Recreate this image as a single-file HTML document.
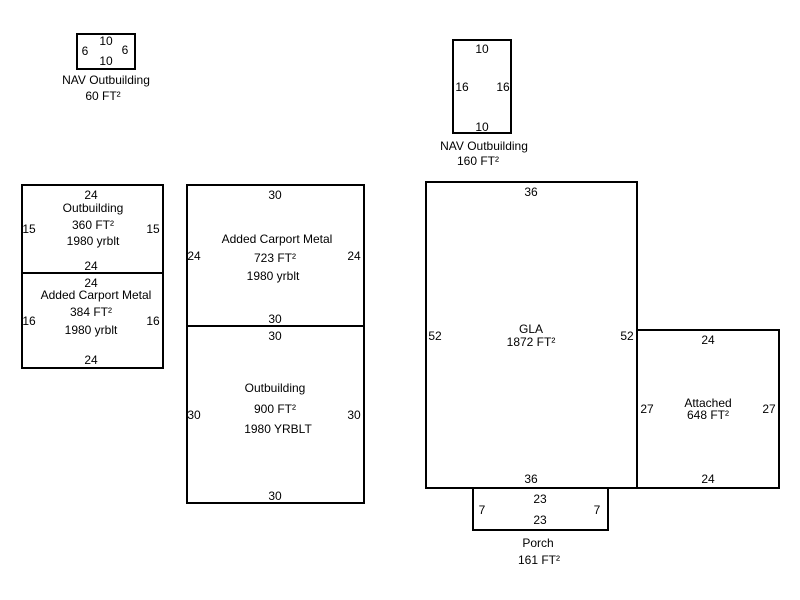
<!DOCTYPE html>
<html><head><meta charset="utf-8"><style>
html,body{margin:0;padding:0;background:#fff;}
svg{display:block;}
text{font-family:"Liberation Sans",Arial,sans-serif;font-size:12px;fill:#000;}
rect{fill:none;stroke:#000;stroke-width:2;}
</style></head><body>
<svg width="800" height="600" viewBox="0 0 800 600" xmlns="http://www.w3.org/2000/svg">
<rect x="77" y="34" width="58" height="35"/>
<text x="106" y="45" text-anchor="middle">10</text>
<text x="106" y="65" text-anchor="middle">10</text>
<text x="85" y="55" text-anchor="middle">6</text>
<text x="125" y="54" text-anchor="middle">6</text>
<text x="106" y="84" text-anchor="middle">NAV Outbuilding</text>
<text x="103" y="100" text-anchor="middle">60 FT²</text>

<rect x="453" y="40" width="58" height="93"/>
<text x="482" y="53" text-anchor="middle">10</text>
<text x="482" y="131" text-anchor="middle">10</text>
<text x="462" y="91" text-anchor="middle">16</text>
<text x="503" y="91" text-anchor="middle">16</text>
<text x="484" y="150" text-anchor="middle">NAV Outbuilding</text>
<text x="478" y="165" text-anchor="middle">160 FT²</text>

<rect x="22" y="185" width="141" height="88"/>
<text x="91" y="199" text-anchor="middle">24</text>
<text x="93" y="212" text-anchor="middle">Outbuilding</text>
<text x="93" y="229" text-anchor="middle">360 FT²</text>
<text x="93" y="245" text-anchor="middle">1980 yrblt</text>
<text x="29" y="233" text-anchor="middle">15</text>
<text x="153" y="233" text-anchor="middle">15</text>
<text x="91" y="270" text-anchor="middle">24</text>

<rect x="22" y="273" width="141" height="95"/>
<text x="91" y="287" text-anchor="middle">24</text>
<text x="96" y="299" text-anchor="middle">Added Carport Metal</text>
<text x="91" y="316" text-anchor="middle">384 FT²</text>
<text x="91" y="334" text-anchor="middle">1980 yrblt</text>
<text x="29" y="325" text-anchor="middle">16</text>
<text x="153" y="325" text-anchor="middle">16</text>
<text x="91" y="364" text-anchor="middle">24</text>

<rect x="187" y="185" width="177" height="141"/>
<text x="275" y="199" text-anchor="middle">30</text>
<text x="277" y="243" text-anchor="middle">Added Carport Metal</text>
<text x="275" y="262" text-anchor="middle">723 FT²</text>
<text x="273" y="280" text-anchor="middle">1980 yrblt</text>
<text x="194" y="260" text-anchor="middle">24</text>
<text x="354" y="260" text-anchor="middle">24</text>
<text x="275" y="323" text-anchor="middle">30</text>

<rect x="187" y="326" width="177" height="177"/>
<text x="275" y="340" text-anchor="middle">30</text>
<text x="275" y="392" text-anchor="middle">Outbuilding</text>
<text x="275" y="413" text-anchor="middle">900 FT²</text>
<text x="278" y="433" text-anchor="middle">1980 YRBLT</text>
<text x="194" y="419" text-anchor="middle">30</text>
<text x="354" y="419" text-anchor="middle">30</text>
<text x="275" y="500" text-anchor="middle">30</text>

<rect x="426" y="182" width="211" height="306"/>
<text x="531" y="196" text-anchor="middle">36</text>
<text x="531" y="333" text-anchor="middle">GLA</text>
<text x="531" y="346" text-anchor="middle">1872 FT²</text>
<text x="435" y="340" text-anchor="middle">52</text>
<text x="627" y="340" text-anchor="middle">52</text>
<text x="531" y="483" text-anchor="middle">36</text>

<rect x="637" y="330" width="142" height="158"/>
<text x="708" y="344" text-anchor="middle">24</text>
<text x="708" y="407" text-anchor="middle">Attached</text>
<text x="708" y="419" text-anchor="middle">648 FT²</text>
<text x="647" y="413" text-anchor="middle">27</text>
<text x="769" y="413" text-anchor="middle">27</text>
<text x="708" y="483" text-anchor="middle">24</text>

<rect x="473" y="488" width="135" height="42"/>
<text x="540" y="503" text-anchor="middle">23</text>
<text x="540" y="524" text-anchor="middle">23</text>
<text x="482" y="514" text-anchor="middle">7</text>
<text x="597" y="514" text-anchor="middle">7</text>
<text x="538" y="547" text-anchor="middle">Porch</text>
<text x="539" y="564" text-anchor="middle">161 FT²</text>
</svg>
</body></html>
